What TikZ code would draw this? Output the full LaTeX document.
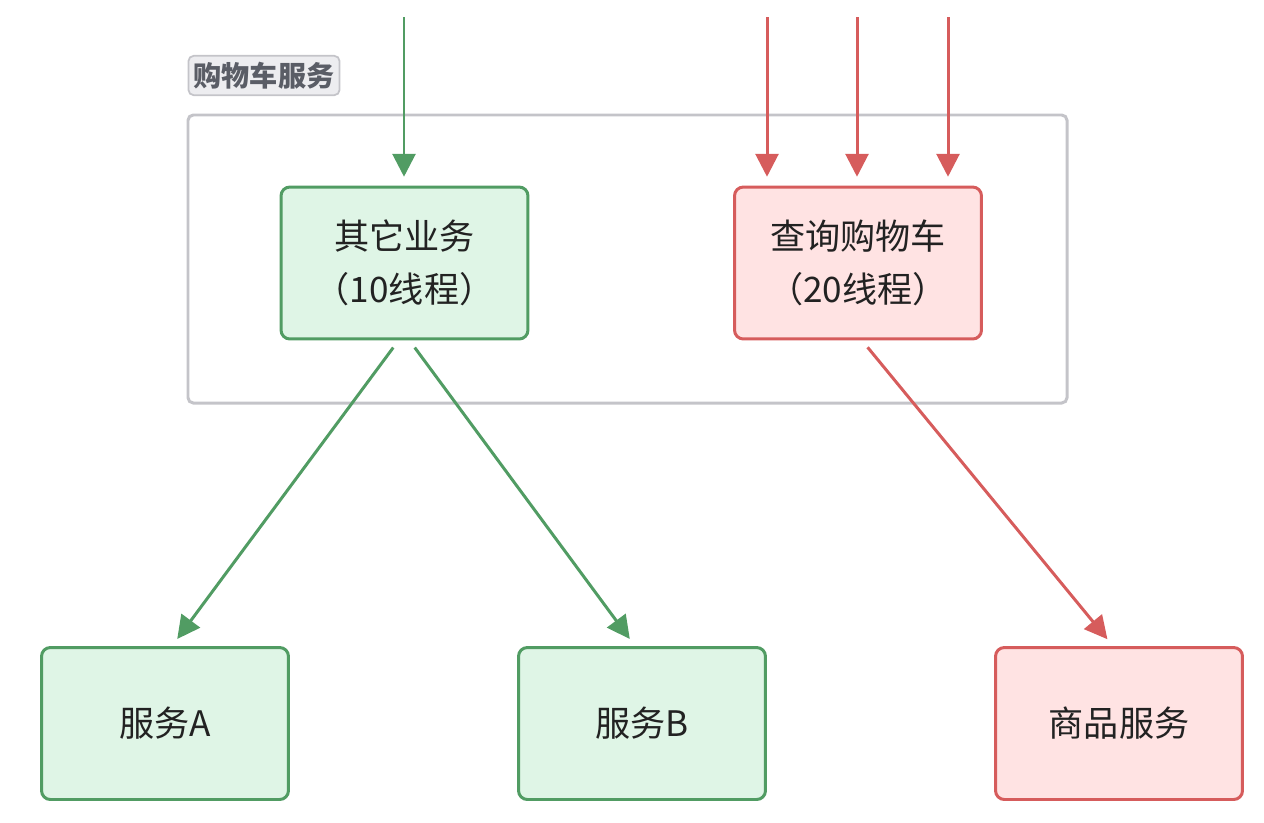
\documentclass[tikz,border=0pt]{standalone}
\usepackage{fontspec}
\setmainfont{Noto Sans CJK SC}
\usetikzlibrary{arrows.meta,calc}
\definecolor{gline}{HTML}{519C63}
\definecolor{gfill}{HTML}{DFF5E6}
\definecolor{rline}{HTML}{D65C5C}
\definecolor{rfill}{HTML}{FFE3E3}
\definecolor{frame}{HTML}{C4C4C9}
\definecolor{tagfill}{HTML}{EDEDF0}
\definecolor{tagtext}{HTML}{5A5D66}
\definecolor{txt}{HTML}{222222}

\begin{document}
\begin{tikzpicture}[x=0.02cm,y=-0.02cm,
	svc/.style={rectangle, rounded corners=5pt, line width=1.7pt, minimum width=4.94cm, minimum height=3.04cm, align=center, text=txt, font=\fontsize{20}{30}\selectfont},
	gsvc/.style={svc, draw=gline, fill=gfill},
	rsvc/.style={svc, draw=rline, fill=rfill},
	garrow/.style={line width=1.7pt, draw=gline, -{Triangle[length=13pt,width=13pt]}},
	rarrow/.style={line width=1.7pt, draw=rline, -{Triangle[length=13pt,width=13pt]}}]
	\useasboundingbox (0,0) rectangle (1264,822);

	% group frame and its tag
	\draw[frame, line width=1.7pt, rounded corners=3pt] (188,115) rectangle (1067,403);
	\node[draw=frame, fill=tagfill, line width=1pt, rounded corners=3pt, text=tagtext, inner xsep=3pt, inner ysep=3.5pt, font=\fontsize{16}{18}\bfseries\selectfont] (tag) at (264,75.5) {购物车服务};

	% services
	\node[gsvc] (other) at (404.5,263) {其它业务\\（10线程）};
	\node[rsvc] (query) at (858,263) {查询购物车\\（20线程）};
	\node[gsvc] (svcA) at (165,723.5) {服务A};
	\node[gsvc] (svcB) at (642,723.5) {服务B};
	\node[rsvc] (goods) at (1119,723.5) {商品服务};

	% incoming requests
	\coordinate (in0) at (404,17);
	\coordinate (in1) at (767,17);
	\coordinate (in2) at (857,17);
	\coordinate (in3) at (948,17);
	\draw[garrow, shorten >=5pt] (in0) -- (in0 |- other.north);
	\foreach \i in {1,2,3}
		\draw[rarrow, shorten >=5pt] (in\i) -- (in\i |- query.north);

	% outgoing calls
	\draw[garrow, shorten <=5pt, shorten >=5pt] ($(other.south)+(-6,0)$) -- ($(svcA.north)+(7,0)$);
	\draw[garrow, shorten <=5pt, shorten >=5pt] ($(other.south)+(5,0)$) -- ($(svcB.north)+(-7,0)$);
	\draw[rarrow, shorten <=5pt, shorten >=5pt] ($(query.south)+(4,0)$) -- ($(goods.north)+(-6,0)$);

\end{tikzpicture}
\end{document}
